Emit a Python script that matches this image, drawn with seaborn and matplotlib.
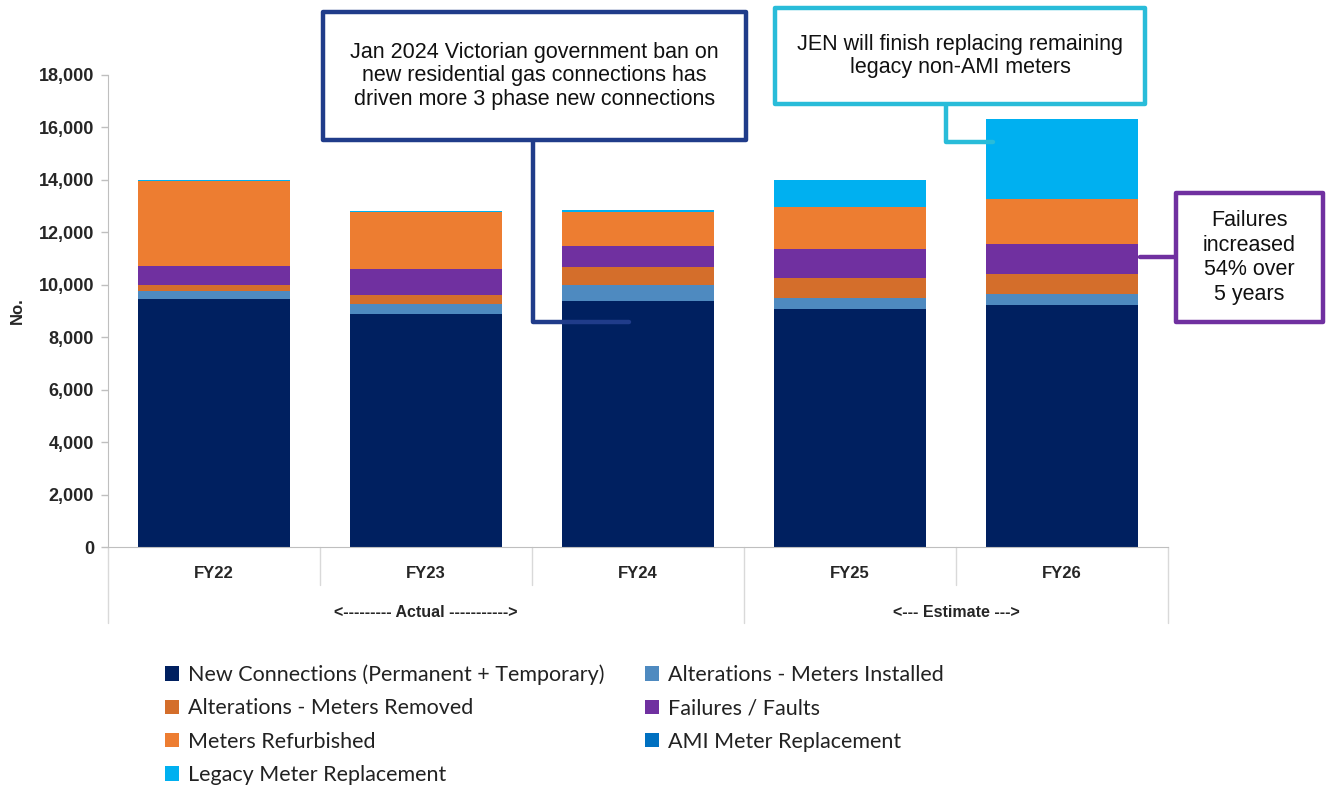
import seaborn as sns
import numpy as np
import matplotlib.pyplot as plt
from matplotlib.patches import Rectangle, Patch
from matplotlib.lines import Line2D
from matplotlib.ticker import FuncFormatter
import matplotlib.transforms as mtransforms

years = ["FY22", "FY23", "FY24", "FY25", "FY26"]
new_connections = [9470, 8870, 9380, 9065, 9220]
alt_installed = [305, 380, 600, 430, 430]
alt_removed = [215, 360, 710, 750, 760]
failures = [740, 990, 780, 1115, 1130]
refurbished = [3230, 2190, 1320, 1625, 1750]
ami_replacement = [0, 0, 0, 0, 0]
legacy_replacement = [50, 30, 60, 1005, 3020]

series_names = ["New Connections (Permanent + Temporary)",
                "Alterations - Meters Installed",
                "Alterations - Meters Removed",
                "Failures / Faults",
                "Meters Refurbished",
                "AMI Meter Replacement",
                "Legacy Meter Replacement"]
series_values = [new_connections, alt_installed, alt_removed, failures,
                 refurbished, ami_replacement, legacy_replacement]
colors = ["#002060", "#4E8AC0", "#D46E2B", "#7030A0", "#ED7D31", "#0070C0", "#00B0F0"]

periods = ["<--------- Actual ----------->", "<--- Estimate --->"]

sns.set_style("white")
plt.rcParams['font.family'] = ['Liberation Sans', 'DejaVu Sans']

W, H = 1329, 790
fig = plt.figure(figsize=(W / 100, H / 100), dpi=100)
ax = fig.add_axes([108 / W, 1 - 547 / H, 1060 / W, 472 / H])

bottom = np.zeros(len(years))
for name, vals, c in zip(series_names, series_values, colors):
    sns.barplot(x=years, y=vals, bottom=bottom, color=c, width=0.72,
                saturation=1, errorbar=None, ax=ax, linewidth=0)
    bottom = bottom + np.array(vals)

ax.set_xlim(-0.5, 4.5)
ax.set_ylim(0, 18000)
ax.set_yticks(np.arange(0, 18001, 2000))
ax.yaxis.set_major_formatter(FuncFormatter(lambda v, p: f"{int(v):,}"))
ax.tick_params(axis='y', which='major', length=5, width=1, color='#BFBFBF',
               direction='out', left=True, labelsize=13, pad=5)
for lbl in ax.get_yticklabels():
    lbl.set_fontweight('bold')
ax.set_xticks([])
ax.set_xlabel("")
ax.set_ylabel("No.", fontsize=12, fontweight='bold')
ax.yaxis.set_label_coords(-0.078, 0.5)

for s in ['top', 'right']:
    ax.spines[s].set_visible(False)
ax.spines['left'].set_color('#BFBFBF')
ax.spines['bottom'].set_color('#BFBFBF')

# multi-level category axis
trans = mtransforms.blended_transform_factory(ax.transData, ax.transAxes)
for i, yr in enumerate(years):
    ax.text(i, -0.057, yr, transform=trans, ha='center', va='center',
            fontsize=12, fontweight='bold')
ax.text(1.0, -0.138, periods[0], transform=trans, ha='center', va='center',
        fontsize=11.5, fontweight='bold')
ax.text(3.5, -0.138, periods[1], transform=trans, ha='center', va='center',
        fontsize=11.5, fontweight='bold')
for xs, ybot in [(0.5, -0.0805), (1.5, -0.0805), (3.5, -0.0805),
                 (-0.5, -0.161), (2.5, -0.161), (4.5, -0.161)]:
    ax.plot([xs, xs], [0, ybot], transform=trans, color='#D9D9D9', lw=1,
            clip_on=False)


def fx(x):
    return x / W


def fy(y):
    return 1 - y / H


def box(x0, y0, x1, y1, col, txt, fs=15.5, ls=1.13):
    fig.add_artist(Rectangle((fx(x0), fy(y1)), fx(x1) - fx(x0), fy(y0) - fy(y1),
                             transform=fig.transFigure, facecolor='white',
                             edgecolor=col, lw=3.2, joinstyle='round', zorder=5))
    fig.text(fx((x0 + x1) / 2), fy((y0 + y1) / 2), txt, ha='center', va='center',
             fontsize=fs, color='#111111', linespacing=ls, zorder=6)


def connector(pts, col):
    xs = [fx(p[0]) for p in pts]
    ys = [fy(p[1]) for p in pts]
    fig.add_artist(Line2D(xs, ys, transform=fig.transFigure, color=col, lw=3.2,
                          solid_joinstyle='round', zorder=4))


c1, c2, c3 = "#203C8A", "#29BCD9", "#7030A0"
connector([(533, 140), (533, 322), (629, 322)], c1)
box(323, 12, 746, 140, c1,
    "Jan 2024 Victorian government ban on\nnew residential gas connections has\ndriven more 3 phase new connections")
connector([(946, 104), (946, 142), (993, 142)], c2)
box(775, 8, 1145, 104, c2,
    "JEN will finish replacing remaining\nlegacy non-AMI meters")
connector([(1176, 257), (1140, 257)], c3)
box(1176, 193, 1323, 322, c3, "Failures\nincreased\n54% over\n5 years", ls=1.22)

# legend (row-wise order in 2 columns)
handles = [Patch(facecolor=c, edgecolor='none') for c in colors]
order = [0, 2, 4, 6, 1, 3, 5]
leg = fig.legend([handles[i] for i in order], [series_names[i] for i in order],
                 ncol=2, loc='upper left', bbox_to_anchor=(146 / W, 1 - 645 / H),
                 frameon=False, handlelength=0.65, handleheight=0.65,
                 handletextpad=0.4, columnspacing=1.9, labelspacing=0.62,
                 prop={'family': ['Lato', 'DejaVu Sans'], 'size': 15.5})
for t in leg.get_texts():
    t.set_color('#222222')

fig.savefig("out.png", dpi=100)
